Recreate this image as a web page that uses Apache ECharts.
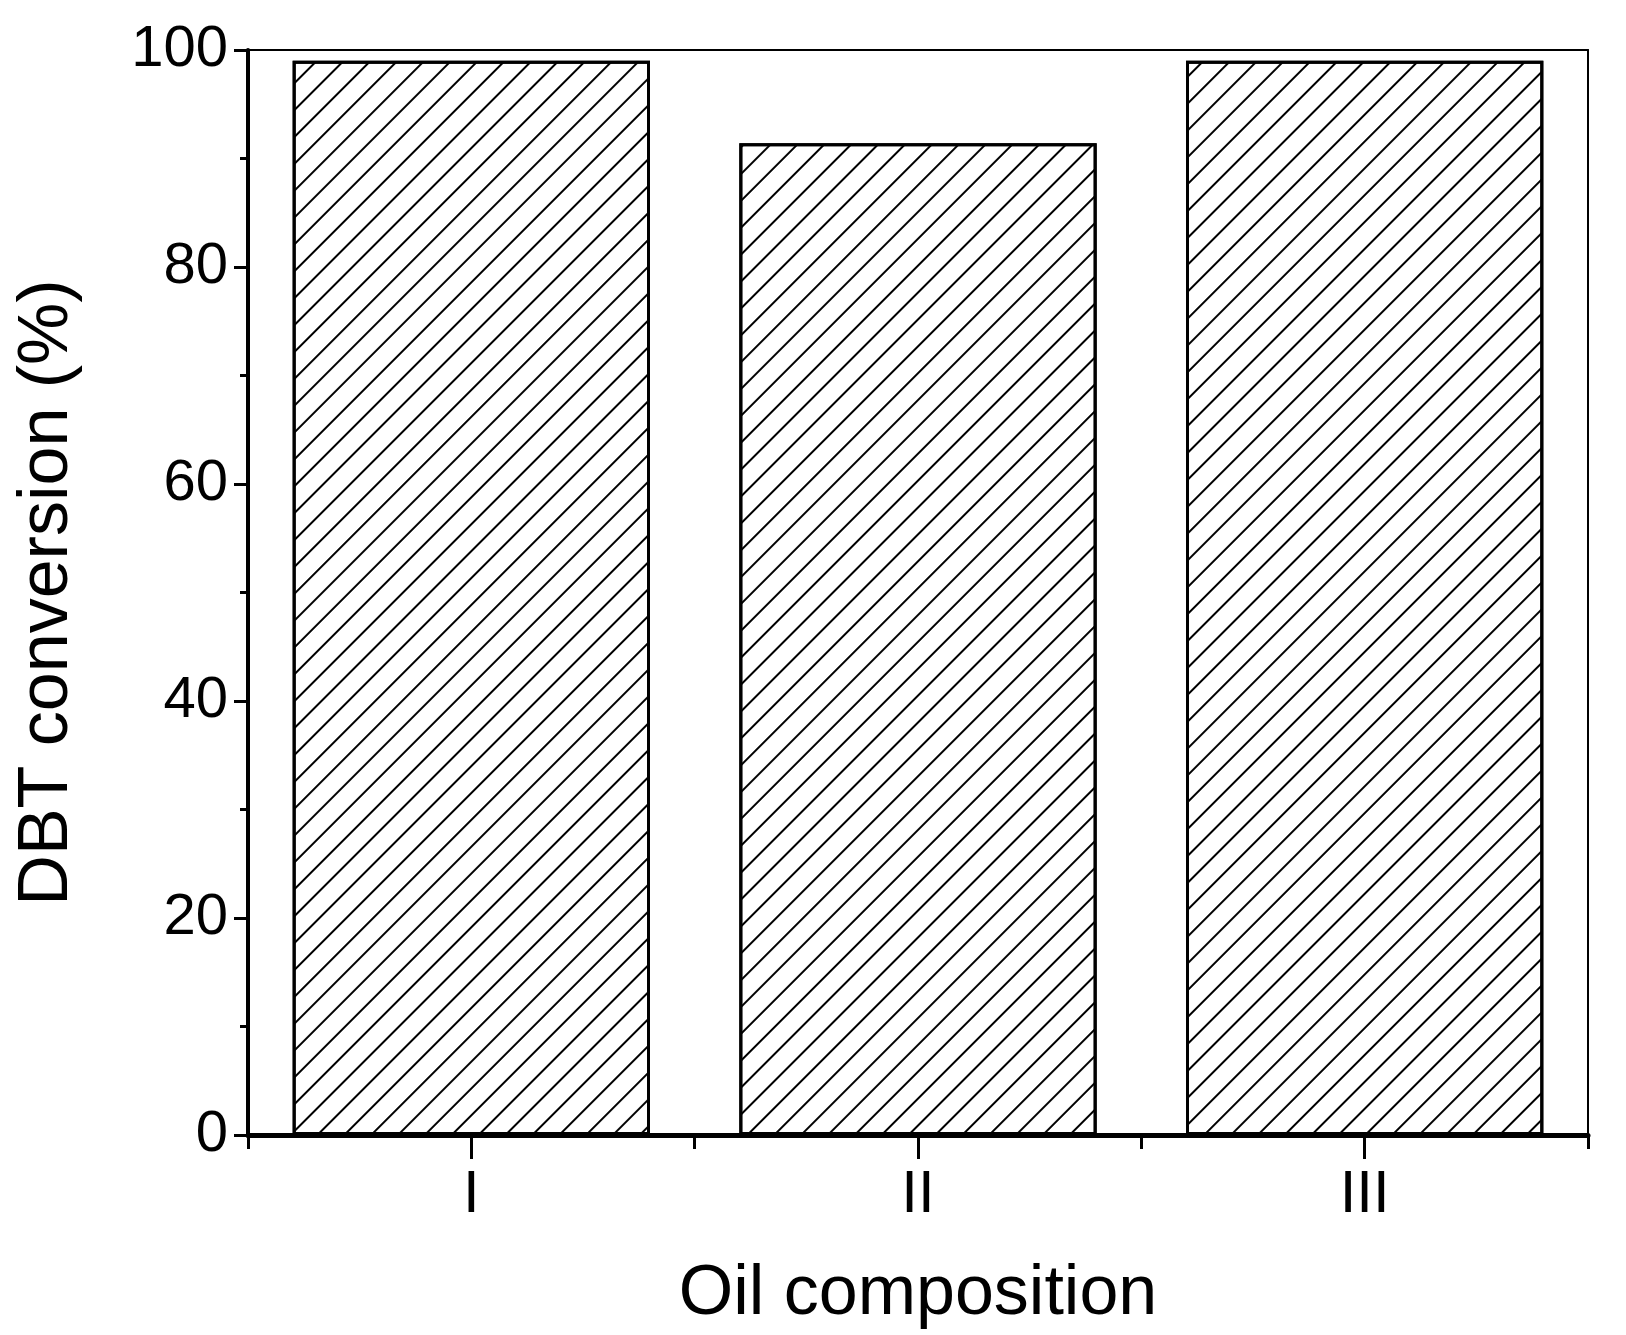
<!DOCTYPE html>
<html><head><meta charset="utf-8">
<script src="https://cdn.jsdelivr.net/npm/echarts@6/dist/echarts.min.js"></script>
<style>html,body{margin:0;padding:0;background:#fff}#c{width:1626px;height:1335px}</style>
</head><body><div id="c"></div>
<script>
const categories = ['I', 'II', 'III'];
const conversion = [99.0, 91.4, 99.0];
const yTicks = [0, 20, 40, 60, 80, 100];

const font = 'Liberation Sans, Arial, sans-serif';
const chart = echarts.init(document.getElementById('c'));
const grid = {left: 248, right: 38, top: 50, bottom: 196};
chart.setOption({
  backgroundColor: '#fff',
  animation: false,
  grid: grid,
  xAxis: [
    {type: 'category', data: categories, position: 'bottom',
     axisLine: {lineStyle: {color: '#000', width: 5}},
     axisTick: {show: true, length: 14, lineStyle: {color: '#000', width: 3}},
     axisLabel: {show: false}, splitLine: {show: false}},
    {type: 'category', data: categories, position: 'bottom',
     axisLine: {show: false},
     axisTick: {show: true, alignWithLabel: true, length: 24, lineStyle: {color: '#000', width: 3}},
     axisLabel: {color: '#000', fontSize: 60, fontFamily: font, margin: 30},
     name: 'Oil composition', nameLocation: 'middle', nameGap: 125,
     nameTextStyle: {color: '#000', fontSize: 70, fontFamily: font}},
    {type: 'category', data: categories, position: 'top',
     axisLine: {lineStyle: {color: '#000', width: 2}},
     axisTick: {show: false}, axisLabel: {show: false}}
  ],
  yAxis: [
    {type: 'value', min: 0, max: 100, interval: 20,
     axisLine: {show: true, lineStyle: {color: '#000', width: 4}},
     axisTick: {show: true, length: 14, lineStyle: {color: '#000', width: 3}},
     minorTick: {show: true, splitNumber: 2, length: 8, lineStyle: {color: '#000', width: 3}},
     axisLabel: {color: '#000', fontSize: 58, fontFamily: font, margin: 20,
       formatter: v => yTicks.includes(v) ? String(v) : ''},
     splitLine: {show: false},
     name: 'DBT conversion (%)', nameLocation: 'middle', nameGap: 165,
     nameTextStyle: {color: '#000', fontSize: 70, fontFamily: font}},
    {type: 'value', min: 0, max: 100, position: 'right',
     axisLine: {show: true, lineStyle: {color: '#000', width: 2}},
     axisTick: {show: false}, axisLabel: {show: false}, splitLine: {show: false}}
  ],
  series: [{
    type: 'bar', data: conversion, xAxisIndex: 0, yAxisIndex: 0,
    barCategoryGap: '20%',
    itemStyle: {color: '#fff', borderColor: '#000', borderWidth: 3,
      decal: {symbol: 'rect', symbolSize: 1, color: '#000', backgroundColor: null,
        dashArrayX: [1, 0], dashArrayY: [2, 17], rotation: -Math.PI / 4}}
  }]
});
</script></body></html>
